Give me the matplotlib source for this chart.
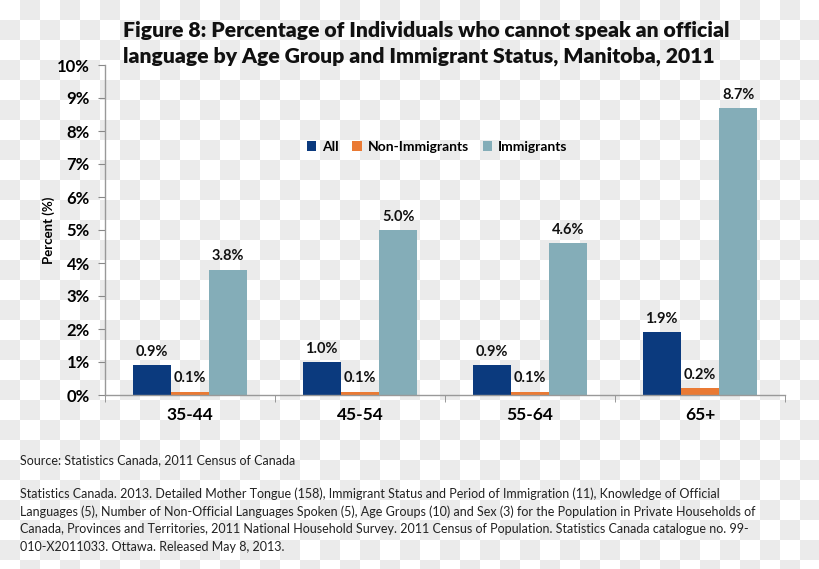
import numpy as np
import matplotlib
matplotlib.use("Agg")
import matplotlib.pyplot as plt
from matplotlib.patches import Patch

categories = ["35-44", "45-54", "55-64", "65+"]
series_names = ["All", "Non-Immigrants", "Immigrants"]
all_vals = [0.9, 1.0, 0.9, 1.9]
non_imm_vals = [0.1, 0.1, 0.1, 0.2]
imm_vals = [3.8, 5.0, 4.6, 8.7]
colors = ["#0b3a7e", "#ea7a34", "#84adb8"]
ytick_labels = [f"{i}%" for i in range(0, 11)]

title = ("Figure 8: Percentage of Individuals who cannot speak an official\n"
         "language by Age Group and Immigrant Status, Manitoba, 2011")
source = "Source: Statistics Canada, 2011 Census of Canada"
reference = ("Statistics Canada. 2013. Detailed Mother Tongue (158), Immigrant Status and Period of Immigration (11), Knowledge of Official\n"
             "Languages (5), Number of Non-Official Languages Spoken (5), Age Groups (10) and Sex (3) for the Population in Private Households of\n"
             "Canada, Provinces and Territories, 2011 National Household Survey. 2011 Census of Population. Statistics Canada catalogue no. 99-\n"
             "010-X2011033. Ottawa. Released May 8, 2013.")

W, H = 820, 569
fig = plt.figure(figsize=(W / 100, H / 100), dpi=100)
fig.patch.set_alpha(0)

# checkerboard background (transparency pattern)
sq = 20
yy, xx = np.mgrid[0:H, 0:W]
chk = ((xx // sq + yy // sq) % 2).astype(float)
bg = np.where(chk[..., None] > 0, np.array([0.925, 0.925, 0.925]), np.array([1.0, 1.0, 1.0]))
fig.figimage(bg, xo=0, yo=0, zorder=-10)

ax = fig.add_axes([105 / W, 1 - 395 / H, 680 / W, 330 / H])
ax.patch.set_alpha(0)

x = np.arange(len(categories))
bw = 0.225
series = [all_vals, non_imm_vals, imm_vals]
for i, (vals, c, name) in enumerate(zip(series, colors, series_names)):
    pos = x + (i - 1) * bw
    ax.bar(pos, vals, width=bw, color=c, label=name, zorder=2)
    for px, v in zip(pos, vals):
        ax.annotate(f"{v:.1f}%", (px, v), xytext=(0, 4.5), textcoords="offset points",
                    ha="center", va="bottom", fontsize=10.5, fontweight="bold",
                    family="Lato", color="#111111")

ax.set_xlim(-0.5, len(categories) - 0.5)
ax.set_ylim(0, 10)
ax.set_yticks(range(0, 11))
ax.set_yticklabels(ytick_labels, fontsize=12, fontweight="bold", family="Lato")
ax.set_xticks(x)
ax.set_xticklabels(categories, fontsize=12.5, fontweight="bold", family="Lato")
ax.set_xticks(np.arange(-0.5, len(categories)), minor=True)
ax.tick_params(axis="x", which="major", length=0, pad=9)
ax.tick_params(axis="x", which="minor", length=5, color="#888888", direction="out")
ax.tick_params(axis="y", length=5, color="#888888", direction="out", pad=6)
for s in ["top", "right"]:
    ax.spines[s].set_visible(False)
for s in ["left", "bottom"]:
    ax.spines[s].set_color("#999999")
    ax.spines[s].set_linewidth(1)

ax.set_ylabel("Percent (%)", fontsize=9.5, fontweight="bold", family="Lato", labelpad=1)

handles = [Patch(facecolor=c, label=n) for c, n in zip(colors, series_names)]
leg = ax.legend(handles=handles, loc="center", bbox_to_anchor=((437 - 105) / 680, (395 - 147) / 330),
                ncol=3, frameon=False, handlelength=0.7, handleheight=0.7, handletextpad=0.4,
                columnspacing=1.0, prop={"family": "Lato", "weight": "bold", "size": 10})

fig.text(123 / W, 1 - 21 / H, title, ha="left", va="top", fontsize=15.2, fontweight="heavy",
         family="Lato", color="#111111", linespacing=1.42)
fig.text(20 / W, 1 - 460 / H, source, ha="left", va="center", fontsize=9.0, family="Lato", color="#222222")
fig.text(20 / W, 1 - 487 / H, reference, ha="left", va="top", fontsize=9.0, family="Lato",
         color="#222222", linespacing=1.55)

fig.savefig("out.png", dpi=100)
